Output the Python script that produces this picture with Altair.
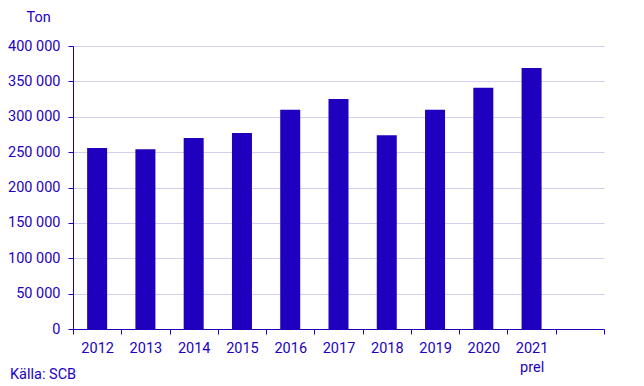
import altair as alt
import pandas as pd

years = ["2012", "2013", "2014", "2015", "2016", "2017", "2018", "2019", "2020", "2021", " "]
values = [256000, 254000, 270000, 277000, 310000, 325000, 274000, 310000, 341000, 369000, None]
y_ticks = [0, 50000, 100000, 150000, 200000, 250000, 300000, 350000, 400000]

df = pd.DataFrame({"year": years, "value": values})
blue = "#1E00BE"
FONT = "Roboto"

bars = alt.Chart(df).mark_bar(color=blue, width=20).encode(
    x=alt.X("year:N", sort=years,
            scale=alt.Scale(domain=years, paddingInner=0, paddingOuter=0),
            axis=alt.Axis(title=None, labelAngle=0, tickBand="extent", domainColor=blue,
                          tickColor=blue, tickSize=5, labelColor=blue, labelFontSize=14.5,
                          labelFont=FONT, labelPadding=7, labelLineHeight=19,
                          labelExpr="datum.value == '2021' ? ['2021', 'prel'] : datum.value")),
    y=alt.Y("value:Q", scale=alt.Scale(domain=[0, 400000], nice=False),
            axis=alt.Axis(values=y_ticks, title="Ton", titleAngle=0, titleAlign="left",
                          titleBaseline="alphabetic", titleX=-47, titleY=-25,
                          titleFont=FONT, titleFontSize=14.5, titleFontWeight="normal",
                          titleColor=blue, labelExpr="replace(format(datum.value, ',d'), /,/g, ' ')",
                          labelColor=blue, labelFont=FONT, labelFontSize=14.5, labelPadding=8,
                          domainColor=blue, tickColor=blue, tickSize=5,
                          gridColor="#D2CFF0", gridWidth=1)),
)

source = alt.Chart(pd.DataFrame({"t": ["Källa: SCB"]})).mark_text(
    align="left", baseline="middle", font=FONT, fontSize=14.5, color=blue
).encode(text="t:N", x=alt.value(-63), y=alt.value(329))

chart = alt.layer(bars, source).properties(
    width=531, height=283,
    autosize=alt.AutoSizeParams(type="none"),
    padding={"left": 65, "top": 38, "right": 30, "bottom": 55},
).configure_view(stroke=None).configure_axis(domainWidth=1)

chart.save("out.html", embed_options={"renderer": "svg", "actions": False})
